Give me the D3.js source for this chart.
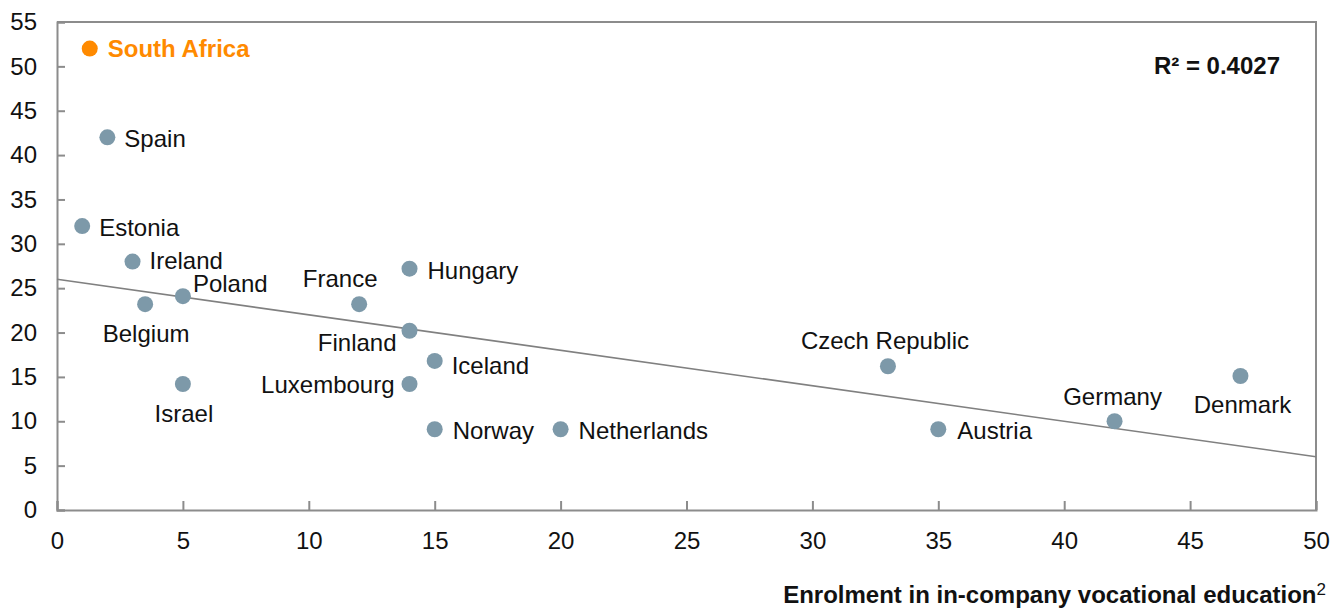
<!DOCTYPE html>
<html>
<head>
<meta charset="utf-8">
<script src="https://cdn.jsdelivr.net/npm/d3@7"></script>
<style>
  html, body { margin: 0; padding: 0; background: #fff; }
  svg { display: block; font-family: "Liberation Sans", Arial, sans-serif; }
</style>
</head>
<body>
<svg id="chart" width="1332" height="608"></svg>
<script>
// ---- Data ----
const countries = ["South Africa", "Spain", "Estonia", "Ireland", "Poland", "Belgium", "France", "Hungary",
  "Finland", "Iceland", "Luxembourg", "Israel", "Norway", "Netherlands", "Czech Republic", "Austria", "Germany", "Denmark"];
const enrolment = [1.3, 2, 1, 3, 5, 3.5, 12, 14, 14, 15, 14, 5, 15, 20, 33, 35, 42, 47];
const yValues = [52, 42, 32, 28, 24.1, 23.2, 23.2, 27.2, 20.2, 16.8, 14.2, 14.2, 9.1, 9.1, 16.2, 9.1, 10, 15.1];
const xTicks = [0, 5, 10, 15, 20, 25, 30, 35, 40, 45, 50];
const yTicks = [0, 5, 10, 15, 20, 25, 30, 35, 40, 45, 50, 55];
const trendX = [0, 50];
const trendY = [26, 6];
const highlight = "South Africa";
const rSquaredLabel = "R² = 0.4027";
const xAxisTitle = "Enrolment in in-company vocational education";

// ---- Layout ----
const svg = d3.select("#chart");
const L = 57, R = 1316, T = 22, B = 510;
const x = d3.scaleLinear().domain([0, 50]).range([L, R]);
const y = d3.scaleLinear().domain([0, 55]).range([B, T]);
const axisColor = "#8c8c8c";
const dotColor = "#7d99a9";
const orange = "#ff8a00";

// frame (top and right)
svg.append("path")
  .attr("d", `M${L},${T}H${R}V${B}`)
  .attr("fill", "none").attr("stroke", axisColor).attr("stroke-width", 2);

// Y axis
const yAxis = d3.axisLeft(y).tickValues(yTicks).tickSize(-8).tickPadding(20).tickFormat(d3.format("d"));
const gy = svg.append("g").attr("transform", `translate(${L},0)`).call(yAxis);
gy.select(".domain").attr("stroke", axisColor).attr("stroke-width", 2);
gy.selectAll(".tick line").attr("stroke", axisColor).attr("stroke-width", 2);
gy.selectAll(".tick text").attr("font-size", 24).attr("fill", "#111").attr("font-family", "Liberation Sans, Arial, sans-serif");

// X axis
const xAxis = d3.axisBottom(x).tickValues(xTicks).tickSize(-9).tickPadding(22).tickFormat(d3.format("d"));
const gx = svg.append("g").attr("transform", `translate(0,${B})`).call(xAxis);
gx.select(".domain").attr("stroke", axisColor).attr("stroke-width", 2);
gx.selectAll(".tick line").attr("stroke", axisColor).attr("stroke-width", 2);
gx.selectAll(".tick text").attr("font-size", 24).attr("fill", "#111").attr("font-family", "Liberation Sans, Arial, sans-serif");

// Trend line
svg.append("line")
  .attr("x1", x(trendX[0])).attr("y1", y(trendY[0]))
  .attr("x2", x(trendX[1])).attr("y2", y(trendY[1]))
  .attr("stroke", "#808080").attr("stroke-width", 1.6);

// Points
const data = countries.map((c, i) => ({ name: c, x: enrolment[i], y: yValues[i] }));
svg.append("g").selectAll("circle").data(data).join("circle")
  .attr("cx", d => x(d.x)).attr("cy", d => y(d.y)).attr("r", 8)
  .attr("fill", d => d.name === highlight ? orange : dotColor);

// Label placement (pixel offsets from the point; anchor)
const place = {
  "South Africa": [18, 8.5, "start"],
  "Spain": [17, 9.5, "start"],
  "Estonia": [17, 10, "start"],
  "Ireland": [17, 7, "start"],
  "Poland": [10, -4, "start"],
  "Belgium": [1, 38, "middle"],
  "France": [-19, -17, "middle"],
  "Hungary": [18, 10, "start"],
  "Finland": [-13, 20, "end"],
  "Iceland": [17, 13, "start"],
  "Luxembourg": [-15, 9, "end"],
  "Israel": [1, 38, "middle"],
  "Norway": [18, 10, "start"],
  "Netherlands": [18, 10, "start"],
  "Czech Republic": [-3, -17, "middle"],
  "Austria": [19, 10, "start"],
  "Germany": [-2, -16, "middle"],
  "Denmark": [2, 37, "middle"]
};
svg.append("g").selectAll("text").data(data).join("text")
  .attr("x", d => x(d.x) + place[d.name][0])
  .attr("y", d => y(d.y) + place[d.name][1])
  .attr("text-anchor", d => place[d.name][2])
  .attr("font-size", 24)
  .attr("font-weight", d => d.name === highlight ? "bold" : "normal")
  .attr("fill", d => d.name === highlight ? orange : "#111")
  .text(d => d.name);

// R squared
svg.append("text")
  .attr("x", 1280).attr("y", 74).attr("text-anchor", "end")
  .attr("font-size", 24).attr("font-weight", "bold").attr("fill", "#111")
  .text(rSquaredLabel);

// X axis title
const title = svg.append("text")
  .attr("x", 1326).attr("y", 603).attr("text-anchor", "end")
  .attr("font-size", 24).attr("fill", "#111");
title.append("tspan").attr("font-weight", "bold").text(xAxisTitle);
title.append("tspan").attr("font-size", 17).attr("dy", -8).text("2");
</script>
</body>
</html>
